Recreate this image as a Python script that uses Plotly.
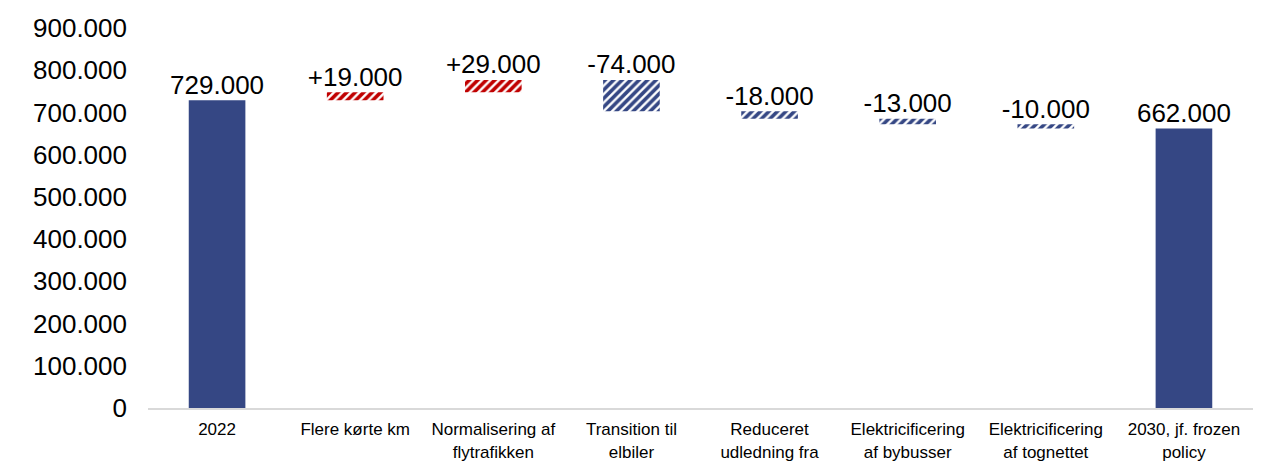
import plotly.graph_objects as go

# Categories (x axis) and values: first and last are totals, the rest are changes
categories = [
    "2022",
    "Flere kørte km",
    "Normalisering af<br>flytrafikken",
    "Transition til<br>elbiler",
    "Reduceret<br>udledning fra",
    "Elektricificering<br>af bybusser",
    "Elektricificering<br>af tognettet",
    "2030, jf. frozen<br>policy",
]
values = [729000, 19000, 29000, -74000, -18000, -13000, -10000, 662000]
kinds = ["total", "delta", "delta", "delta", "delta", "delta", "delta", "total"]

tick_vals = [0, 100000, 200000, 300000, 400000, 500000, 600000, 700000, 800000, 900000]

BLUE = "#354784"
RED = "#C00000"


def fmt(v, signed):
    s = f"{v:+,}" if signed else f"{v:,}"
    return s.replace(",", ".")


# Split bars into totals, increases and decreases, each with its own base
groups = {"total": ([], [], []), "up": ([], [], []), "down": ([], [], [])}
tops, labels = [], []
running = 0
for cat, v, k in zip(categories, values, kinds):
    if k == "total":
        key, base = "total", 0
        running = v
        tops.append(v)
        labels.append(fmt(v, False))
    else:
        key = "up" if v > 0 else "down"
        base = running
        tops.append(max(running, running + v))
        running += v
        labels.append(fmt(v, True))
    groups[key][0].append(cat)
    groups[key][1].append(v)
    groups[key][2].append(base)


def hatch(color):
    return dict(shape="/", fgcolor=color, bgcolor="white", fgopacity=1,
                fillmode="replace", size=6, solidity=0.6)


fig = go.Figure()
styles = {
    "total": dict(color=BLUE, line=dict(width=0)),
    "up": dict(color=RED, line=dict(width=0), pattern=hatch(RED)),
    "down": dict(color=BLUE, line=dict(width=0), pattern=hatch(BLUE)),
}
for key, (xs, ys, bs) in groups.items():
    fig.add_trace(go.Bar(
        x=xs, y=ys, base=bs, width=0.41,
        marker=styles[key], showlegend=False, hoverinfo="skip",
    ))

fig.add_trace(go.Scatter(
    x=categories,
    y=tops,
    text=labels,
    mode="text",
    textposition="top center",
    textfont=dict(size=26, color="#000000"),
    showlegend=False,
    hoverinfo="skip",
    cliponaxis=False,
))

fig.update_layout(
    width=1278,
    height=462,
    margin=dict(l=148, r=25, t=28, b=54),
    paper_bgcolor="white",
    plot_bgcolor="white",
    separators=",.",
    font=dict(family="Arial, Liberation Sans, sans-serif", color="#000000"),
    barmode="overlay",
)
fig.update_yaxes(
    range=[0, 900000],
    tickvals=tick_vals,
    tickformat=",d",
    showgrid=False,
    zeroline=False,
    showline=False,
    tickfont=dict(size=26),
    ticklabelstandoff=20,
    automargin=False,
)
fig.update_xaxes(
    categoryorder="array",
    categoryarray=categories,
    showgrid=False,
    showline=True,
    linecolor="#D9D9D9",
    linewidth=2,
    tickfont=dict(size=17),
    ticklabelstandoff=5,
    automargin=False,
)

fig.write_html("out.html")
